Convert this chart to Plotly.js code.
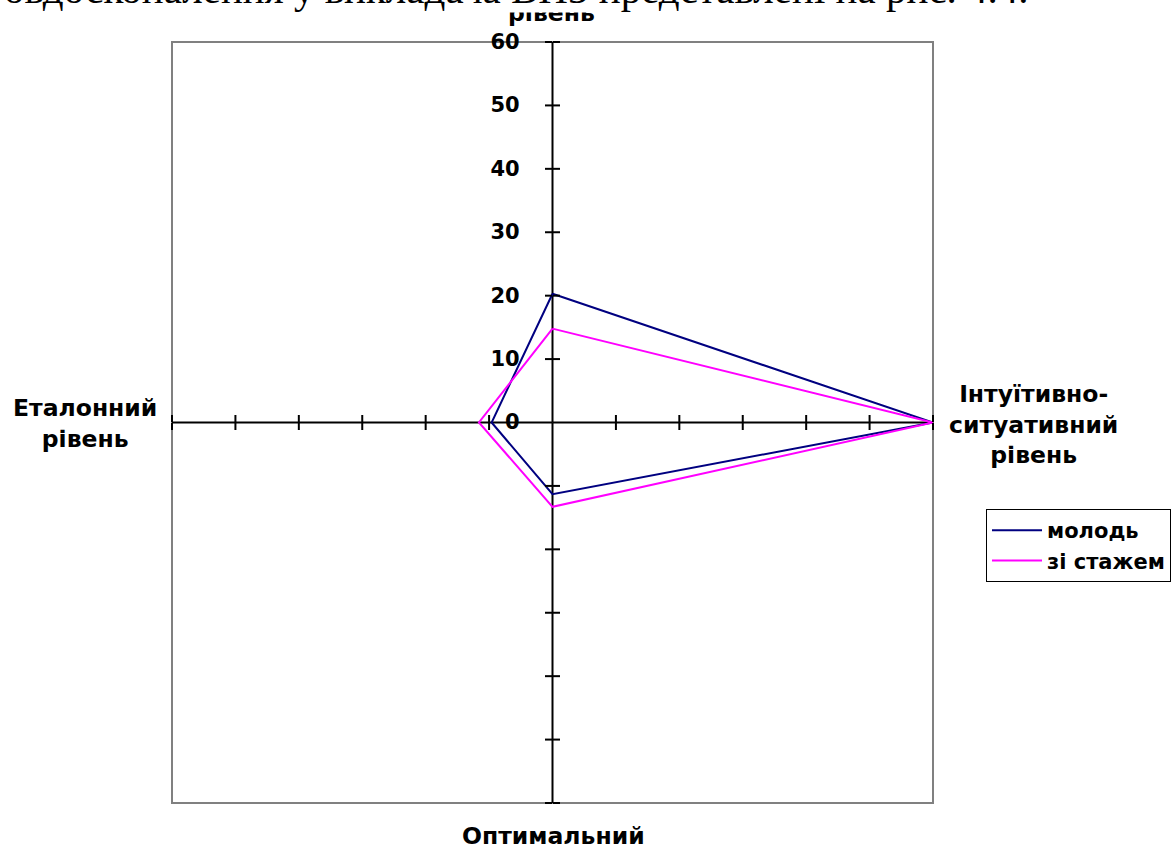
<!DOCTYPE html>
<html>
<head>
<meta charset="utf-8">
<script src="https://cdn.plot.ly/plotly-3.0.1.min.js"></script>
<style>html,body{margin:0;padding:0;background:#fff;}</style>
</head>
<body>
<div id="chart" style="width:1171px;height:845px;"></div>
<script>
// ---- data ----
const categories = ['рівень', 'Інтуїтивно-ситуативний рівень', 'Оптимальний', 'Еталонний рівень'];
const seriesNames = ['молодь', 'зі стажем'];
const youth = [20.3, 60, 11.3, 9.6];
const experienced = [14.8, 60, 13.3, 11.6];
const radialTicks = [0, 10, 20, 30, 40, 50, 60];
const radialTickText = ['0', '10', '20', '30', '40', '50', '60'];
const docText = 'овдосконалення у викладача ВНЗ представлені на рис. 4.4.';

const W = 1171, H = 845;
const px = v => v / W;
const py = v => 1 - v / H;
const dom = {x: [px(172), px(933)], y: [py(803), py(42)]};
const closeLoop = a => a.concat([a[0]]);
const thetaLoop = closeLoop(categories);
const sans = 'DejaVu Sans, Arial, sans-serif';
const labelFont = {family: sans, size: 23.5, color: '#000', weight: 'bold'};

const data = [
  {type: 'scatterpolar', subplot: 'polar', name: seriesNames[0], r: closeLoop(youth), theta: thetaLoop,
   mode: 'lines', line: {color: '#000080', width: 2}},
  {type: 'scatterpolar', subplot: 'polar', name: seriesNames[1], r: closeLoop(experienced), theta: thetaLoop,
   mode: 'lines', line: {color: '#FF00FF', width: 2}}
];

const layout = {
  width: W, height: H, autosize: false,
  margin: {l: 0, r: 0, t: 0, b: 0, pad: 0},
  paper_bgcolor: '#fff',
  showlegend: true,
  legend: {x: px(986), y: py(509), xanchor: 'left', yanchor: 'top', bgcolor: '#fff',
           bordercolor: '#000', borderwidth: 1, font: {family: sans, size: 21, color: '#000', weight: 'bold'},
           itemwidth: 50, tracegroupgap: 0},
  polar: {
    domain: dom, bgcolor: 'rgba(0,0,0,0)',
    radialaxis: {range: [0, 60], angle: 90, side: 'counterclockwise', tickmode: 'array', tickvals: radialTicks, ticktext: radialTickText,
                 ticks: 'outside', ticklen: 25, tickcolor: 'rgba(0,0,0,0)', showline: false, showgrid: false,
                 tickfont: {family: sans, size: 21, color: '#000', weight: 'bold'}, tickangle: 90},
    angularaxis: {type: 'category', categoryarray: categories, rotation: 90, direction: 'clockwise',
                  showline: false, showgrid: true, gridcolor: '#000', gridwidth: 2, ticks: '', showticklabels: false}
  },
  shapes: [
    {type: 'rect', xref: 'paper', yref: 'paper', x0: dom.x[0], x1: dom.x[1], y0: dom.y[0], y1: dom.y[1],
     line: {color: '#808080', width: 2}, layer: 'below'}
  ],
  annotations: [
    {xref: 'paper', yref: 'paper', x: px(551), y: py(29), xanchor: 'center', yanchor: 'bottom', showarrow: false,
     text: categories[0], font: labelFont},
    {xref: 'paper', yref: 'paper', x: px(85), y: py(423), xanchor: 'center', yanchor: 'middle', showarrow: false,
     text: 'Еталонний<br>рівень', font: labelFont},
    {xref: 'paper', yref: 'paper', x: px(1033), y: py(424), xanchor: 'center', yanchor: 'middle', showarrow: false,
     text: 'Інтуїтивно-<br>ситуативний<br>рівень', font: labelFont},
    {xref: 'paper', yref: 'paper', x: px(553), y: py(820), xanchor: 'center', yanchor: 'top', showarrow: false,
     text: categories[2], font: labelFont},
    {xref: 'paper', yref: 'paper', x: px(1030), y: py(13), xanchor: 'right', yanchor: 'bottom', showarrow: false,
     text: docText, bgcolor: '#fff', borderpad: 0,
     font: {family: 'Liberation Serif, Times New Roman, serif', size: 41, color: '#000'}}
  ]
};

// tick-mark helper subplots (crossing ticks on each of the four spokes)
const angles = [90, 0, 270, 180];
let idx = 2;
angles.forEach(a => {
  ['outside', 'inside'].forEach(side => {
    const name = 'polar' + idx;
    layout[name] = {
      domain: dom, bgcolor: 'rgba(0,0,0,0)',
      radialaxis: {range: [0, 60], angle: a, tickmode: 'array', tickvals: radialTicks.slice(1),
                   ticks: side, ticklen: 7, tickwidth: 2, tickcolor: '#000',
                   showticklabels: false, showline: false, showgrid: false},
      angularaxis: {type: 'category', categoryarray: categories, rotation: 90, direction: 'clockwise',
                    visible: false, showgrid: false, showline: false}
    };
    data.push({type: 'scatterpolar', subplot: name, r: closeLoop(youth), theta: thetaLoop,
               mode: 'none', showlegend: false, hoverinfo: 'skip'});
    idx++;
  });
});

Plotly.newPlot('chart', data, layout, {displayModeBar: false, staticPlot: true});
</script>
</body>
</html>
